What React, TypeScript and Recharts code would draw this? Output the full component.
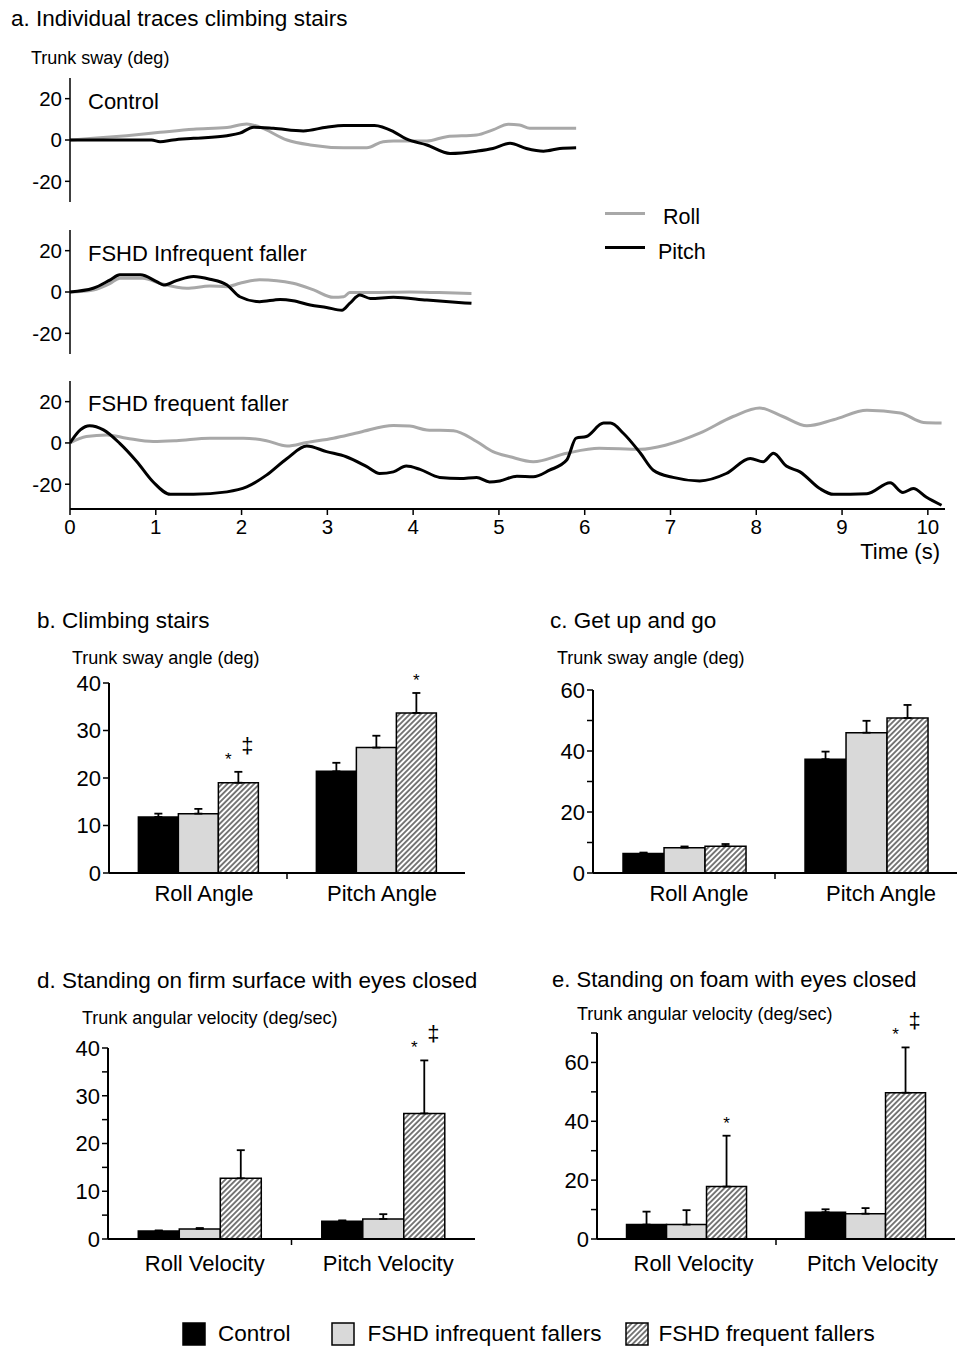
import React from "react";
import { LineChart, Line, BarChart, Bar, XAxis, YAxis, ErrorBar, LabelList } from "recharts";

const FONT = '"Liberation Sans", Arial, Helvetica, sans-serif';

// panel a – individual traces, [time (s), sway (deg)]
const controlRoll = [
  [0, 0], [0.27, 0.8], [0.66, 2.1], [1.05, 3.7], [1.44, 5.2], [1.83, 6.0], [2.06, 7.8], [2.2, 6.5],
  [2.53, 0], [2.8, -2.4], [3.19, -3.7], [3.46, -3.7], [3.65, -0.8], [3.77, -0.5], [4.16, -0.5],
  [4.39, 1.6], [4.74, 2.4], [4.93, 4.9], [5.11, 7.6], [5.24, 7.3], [5.36, 5.7], [5.9, 5.7],
];
const controlPitch = [
  [0, 0], [0.5, 0], [0.95, 0], [1.05, -0.8], [1.2, 0], [1.44, 0.8], [1.83, 2.1], [1.98, 3.3],
  [2.14, 6.2], [2.37, 5.7], [2.72, 4.4], [2.99, 6.2], [3.19, 7.0], [3.55, 7.0], [3.77, 4.1],
  [3.92, 0.5], [4.16, -2.4], [4.43, -6.5], [4.74, -5.4], [4.93, -4.1], [5.13, -1.6], [5.32, -4.1],
  [5.52, -5.4], [5.71, -4.1], [5.9, -3.7],
];
const infreqRoll = [
  [0, 0], [0.27, 1], [0.47, 4.2], [0.58, 6.7], [0.85, 6.7], [1.05, 4.2], [1.36, 1.8], [1.63, 2.9],
  [1.83, 2.6], [1.98, 4.2], [2.21, 5.9], [2.41, 5.5], [2.6, 4.2], [2.84, 1], [3.07, -2.6],
  [3.19, -2.3], [3.26, -0.3], [3.57, -0.2], [3.96, 0], [4.3, -0.3], [4.68, -0.7],
];
const infreqPitch = [
  [0, 0], [0.27, 1.8], [0.47, 5.9], [0.58, 8.3], [0.82, 8.3], [1.01, 5], [1.09, 3.4], [1.24, 5.5],
  [1.44, 7.5], [1.63, 6.2], [1.83, 3.4], [1.98, -2.3], [2.21, -4.7], [2.45, -3.6], [2.6, -4.2],
  [2.8, -6.3], [2.99, -7.5], [3.17, -8.8], [3.26, -5.5], [3.38, -1.5], [3.5, -3.1], [3.77, -2.6],
  [4.16, -3.9], [4.68, -5.5],
];
const frequentRoll = [
  [0, 0], [0.19, 3.1], [0.43, 3.9], [0.66, 2.3], [0.97, 0.7], [1.24, 1.1], [1.63, 2.3], [2.02, 2.3],
  [2.29, 1.1], [2.53, -1.5], [2.76, 0.2], [3.07, 2.3], [3.38, 5.2], [3.77, 8.5], [3.96, 8.2],
  [4.16, 6.3], [4.47, 5.9], [4.74, 0.7], [4.93, -4.2], [5.13, -6.7], [5.4, -9.1], [5.79, -5.0],
  [6.17, -2.6], [6.65, -3.1], [6.95, -1], [7.34, 4.7], [7.73, 12.8], [8.04, 16.9], [8.31, 12.8],
  [8.59, 8.3], [8.9, 11.2], [9.29, 15.8], [9.68, 14.5], [9.95, 9.9], [10.16, 9.6],
];
const frequentPitch = [
  [0, 0], [0.12, 6.3], [0.23, 8.3], [0.39, 6.3], [0.58, -0.2], [0.78, -9.1], [0.97, -18.9],
  [1.17, -24.9], [1.44, -24.9], [1.83, -23.7], [2.06, -21.3], [2.29, -15.6], [2.53, -7.5],
  [2.76, -1.5], [2.99, -4.2], [3.22, -6.7], [3.46, -11.5], [3.61, -14.8], [3.77, -14.0],
  [3.92, -11.2], [4.08, -12.8], [4.31, -16.7], [4.55, -17.2], [4.74, -16.7], [4.89, -18.9],
  [5.01, -18.4], [5.21, -16.1], [5.4, -16.4], [5.59, -13.2], [5.79, -8.3], [5.9, 2.3], [6.02, 3.1],
  [6.22, 9.6], [6.3, 9.6], [6.45, 4.7], [6.65, -5], [6.8, -13.2], [7.03, -16.7], [7.34, -18.4],
  [7.65, -14.8], [7.93, -7.5], [8.08, -9.1], [8.2, -5.0], [8.35, -11.2], [8.51, -14], [8.74, -22.1],
  [8.9, -24.9], [9.29, -24.6], [9.56, -19.3], [9.71, -24.0], [9.83, -22.1], [9.98, -26.2], [10.16, -30.2],
];
const timeTicks = [0, 1, 2, 3, 4, 5, 6, 7, 8, 9, 10];
const swayTicks = [-20, 0, 20];

// panels b-e – group means and upper SE
const angleCats = ["Roll Angle", "Pitch Angle"];
const velocityCats = ["Roll Velocity", "Pitch Velocity"];

const stairsControl = [11.8, 21.4];
const stairsControlSe = [0.7, 1.8];
const stairsInfreq = [12.5, 26.4];
const stairsInfreqSe = [1.0, 2.5];
const stairsFrequent = [19.0, 33.7];
const stairsFrequentSe = [2.3, 4.2];
const stairsMarks = ["* ‡", "*"];

const getUpControl = [6.4, 37.3];
const getUpControlSe = [0.3, 2.5];
const getUpInfreq = [8.3, 46.0];
const getUpInfreqSe = [0.4, 3.9];
const getUpFrequent = [8.8, 50.8];
const getUpFrequentSe = [0.7, 4.3];
const getUpMarks = ["", ""];

const firmControl = [1.7, 3.7];
const firmControlSe = [0.1, 0.2];
const firmInfreq = [2.1, 4.2];
const firmInfreqSe = [0.2, 1.0];
const firmFrequent = [12.7, 26.3];
const firmFrequentSe = [5.9, 11.1];
const firmMarks = ["", "* ‡"];

const foamControl = [4.9, 9.1];
const foamControlSe = [4.4, 1.0];
const foamInfreq = [4.9, 8.6];
const foamInfreqSe = [4.9, 1.9];
const foamFrequent = [17.8, 49.7];
const foamFrequentSe = [17.3, 15.4];
const foamMarks = ["*", "* ‡"];

function Txt({ x, y, size, children, right }: any) {
  const style: any = {
    position: "absolute",
    top: y - size * 0.52,
    fontSize: size,
    lineHeight: 1,
    whiteSpace: "nowrap",
    color: "#000",
  };
  if (right) style.right = 957 - x;
  else style.left = x;
  return <div style={style}>{children}</div>;
}

function TracePanel({ top, height, domain, roll, pitch, withTime }: any) {
  const toPts = (arr: number[][]) => arr.map(([t, v]) => ({ t, v }));
  return (
    <div style={{ position: "absolute", left: 0, top }}>
      <LineChart width={957} height={height} margin={{ top: 8, right: 12, left: 0, bottom: withTime ? 0 : 8 }}>
        <XAxis
          type="number"
          dataKey="t"
          domain={[0, 10.2]}
          ticks={timeTicks}
          interval={0}
          hide={!withTime}
          height={30}
          tickSize={6}
          tickMargin={4}
          allowDataOverflow
          axisLine={{ stroke: "#000", strokeWidth: 2 }}
          tickLine={{ stroke: "#000", strokeWidth: 1.5 }}
          tick={{ fill: "#000", fontSize: 20.5 }}
        />
        <YAxis
          type="number"
          domain={domain}
          ticks={swayTicks}
          interval={0}
          width={70}
          tickSize={5}
          tickMargin={3}
          allowDataOverflow
          axisLine={{ stroke: "#000", strokeWidth: 1.5 }}
          tickLine={{ stroke: "#000", strokeWidth: 1.5 }}
          tick={{ fill: "#000", fontSize: 20.5 }}
        />
        <Line data={toPts(roll)} dataKey="v" type="monotone" stroke="#a8a8a8" strokeWidth={3} dot={false} isAnimationActive={false} />
        <Line data={toPts(pitch)} dataKey="v" type="monotone" stroke="#000" strokeWidth={3} dot={false} isAnimationActive={false} />
      </LineChart>
    </div>
  );
}

function CatTick(props: any) {
  const { x, y, payload, index, dx, gap, width } = props;
  const axisY = y - 6 - gap;
  const half = payload.offset != null ? payload.offset : width / 4;
  return (
    <g>
      <text x={x + dx} y={y} dy="0.71em" textAnchor="middle" fill="#000" fontSize={22}>
        {payload.value}
      </text>
      {index === 0 && (
        <line x1={x + half} x2={x + half} y1={axisY} y2={axisY + 6} stroke="#000" strokeWidth={1.5} />
      )}
    </g>
  );
}

function BarPanel(p: any) {
  const rows = p.cats.map((cat: string, i: number) => ({
    cat,
    control: p.control[i],
    infreq: p.infreq[i],
    frequent: p.frequent[i],
    controlErr: [0, p.controlSe[i]],
    infreqErr: [0, p.infreqSe[i]],
    frequentErr: [0, p.frequentSe[i]],
    mark: p.marks[i],
  }));
  const hatch = `hatch-${p.id}`;

  const markContent = (lp: any) => {
    const r = rows[lp.index];
    if (!r || !r.mark) return null;
    const scale = Number(lp.height) / r.frequent;
    const errTop = Number(lp.y) - r.frequentErr[1] * scale;
    const cx = Number(lp.x) + Number(lp.width) / 2;
    const dagger = r.mark.includes("‡");
    return (
      <g>
        <text x={dagger ? cx - 10 : cx} y={errTop - 7} textAnchor="middle" fontSize={17} fill="#000">*</text>
        {dagger && (
          <text x={cx + 9} y={errTop - 19} textAnchor="middle" fontSize={22} fill="#000">‡</text>
        )}
      </g>
    );
  };

  return (
    <div style={{ position: "absolute", left: p.left, top: p.top }}>
      <BarChart
        width={p.width}
        height={p.height}
        data={rows}
        margin={{ top: p.mTop, right: p.mRight, left: 0, bottom: 0 }}
        barGap={0}
        barCategoryGap="16.5%"
      >
        <defs>
          <pattern id={hatch} width={3.8} height={3.8} patternUnits="userSpaceOnUse" patternTransform="rotate(45)">
            <rect width={3.8} height={3.8} fill="#fff" />
            <line x1={1.9} y1={0} x2={1.9} y2={3.8} stroke="#222" strokeWidth={1.2} />
          </pattern>
        </defs>
        <XAxis
          dataKey="cat"
          height={45}
          tickSize={6}
          tickMargin={p.gap}
          tickLine={false}
          axisLine={{ stroke: "#000", strokeWidth: 2 }}
          tick={(tp: any) => <CatTick {...tp} dx={p.labelDx} gap={p.gap} />}
        />
        <YAxis
          type="number"
          domain={p.domain}
          ticks={p.ticks}
          interval={0}
          width={p.yWidth}
          tickSize={6}
          tickMargin={2}
          allowDataOverflow
          tickFormatter={p.fmt}
          axisLine={{ stroke: "#000", strokeWidth: 2 }}
          tickLine={{ stroke: "#000", strokeWidth: 1.5 }}
          tick={{ fill: "#000", fontSize: 22 }}
        />
        <Bar dataKey="control" fill="#000" stroke="#000" strokeWidth={1.5} isAnimationActive={false}>
          <ErrorBar dataKey="controlErr" direction="y" width={4} stroke="#000" strokeWidth={1.8} />
        </Bar>
        <Bar dataKey="infreq" fill="#d9d9d9" stroke="#000" strokeWidth={1.5} isAnimationActive={false}>
          <ErrorBar dataKey="infreqErr" direction="y" width={4} stroke="#000" strokeWidth={1.8} />
        </Bar>
        <Bar dataKey="frequent" fill={`url(#${hatch})`} stroke="#000" strokeWidth={1.5} isAnimationActive={false}>
          <ErrorBar dataKey="frequentErr" direction="y" width={4} stroke="#000" strokeWidth={1.8} />
          <LabelList dataKey="mark" content={markContent} />
        </Bar>
      </BarChart>
    </div>
  );
}

function Swatch({ kind }: any) {
  return (
    <svg width={24} height={24} style={{ display: "block" }}>
      <defs>
        <pattern id="hatch-legend" width={3.8} height={3.8} patternUnits="userSpaceOnUse" patternTransform="rotate(45)">
          <rect width={3.8} height={3.8} fill="#fff" />
          <line x1={1.9} y1={0} x2={1.9} y2={3.8} stroke="#222" strokeWidth={1.2} />
        </pattern>
      </defs>
      <rect
        x={1}
        y={1}
        width={22}
        height={22}
        stroke="#000"
        strokeWidth={1.5}
        fill={kind === "control" ? "#000" : kind === "infreq" ? "#d9d9d9" : "url(#hatch-legend)"}
      />
    </svg>
  );
}

export default function App() {
  return (
    <div
      style={{
        position: "absolute",
        left: 0,
        top: 0,
        width: 957,
        height: 1347,
        background: "#fff",
        fontFamily: FONT,
        overflow: "hidden",
      }}
    >
      {/* a. traces */}
      <TracePanel top={70} height={140} domain={[-30, 30]} roll={controlRoll} pitch={controlPitch} />
      <TracePanel top={222} height={140} domain={[-30, 30]} roll={infreqRoll} pitch={infreqPitch} />
      <TracePanel top={373} height={166} domain={[-32, 30]} roll={frequentRoll} pitch={frequentPitch} withTime />

      <Txt x={11} y={20} size={22.5}>a. Individual traces climbing stairs</Txt>
      <Txt x={31} y={58} size={18}>Trunk sway (deg)</Txt>
      <Txt x={88} y={102} size={22}>Control</Txt>
      <Txt x={88} y={254} size={22}>FSHD Infrequent faller</Txt>
      <Txt x={88} y={404} size={22}>FSHD frequent faller</Txt>
      <Txt x={940} y={552} size={22} right>Time (s)</Txt>

      <div style={{ position: "absolute", left: 605, top: 211.5, width: 40, height: 3, background: "#a8a8a8" }} />
      <div style={{ position: "absolute", left: 605, top: 245.5, width: 40, height: 3, background: "#000" }} />
      <Txt x={663} y={218} size={21.5}>Roll</Txt>
      <Txt x={658} y={253} size={21.5}>Pitch</Txt>

      {/* b. climbing stairs */}
      <BarPanel
        id="b" left={0} top={670} width={480} height={248} mTop={13} mRight={15} yWidth={109}
        domain={[0, 40]} ticks={[0, 10, 20, 30, 40]} fmt={(v: number) => String(v)}
        cats={angleCats} control={stairsControl} controlSe={stairsControlSe}
        infreq={stairsInfreq} infreqSe={stairsInfreqSe} frequent={stairsFrequent} frequentSe={stairsFrequentSe}
        marks={stairsMarks} labelDx={6} gap={6}
      />
      <Txt x={37} y={622} size={22.5}>b. Climbing stairs</Txt>
      <Txt x={72} y={658} size={18}>Trunk sway angle (deg)</Txt>

      {/* c. get up and go */}
      <BarPanel
        id="c" left={480} top={670} width={477} height={248} mTop={20} mRight={0} yWidth={113}
        domain={[0, 60]} ticks={[0, 10, 20, 30, 40, 50, 60]} fmt={(v: number) => (v % 20 === 0 ? String(v) : "")}
        cats={angleCats} control={getUpControl} controlSe={getUpControlSe}
        infreq={getUpInfreq} infreqSe={getUpInfreqSe} frequent={getUpFrequent} frequentSe={getUpFrequentSe}
        marks={getUpMarks} labelDx={15} gap={6}
      />
      <Txt x={550} y={622} size={22.5}>c. Get up and go</Txt>
      <Txt x={557} y={658} size={18}>Trunk sway angle (deg)</Txt>

      {/* d. firm surface, eyes closed */}
      <BarPanel
        id="d" left={0} top={1010} width={480} height={274} mTop={38} mRight={5} yWidth={108}
        domain={[0, 40]} ticks={[0, 5, 10, 15, 20, 25, 30, 35, 40]} fmt={(v: number) => (v % 10 === 0 ? String(v) : "")}
        cats={velocityCats} control={firmControl} controlSe={firmControlSe}
        infreq={firmInfreq} infreqSe={firmInfreqSe} frequent={firmFrequent} frequentSe={firmFrequentSe}
        marks={firmMarks} labelDx={5} gap={10}
      />
      <Txt x={37} y={982} size={22.5}>d. Standing on firm surface with eyes closed</Txt>
      <Txt x={82} y={1018} size={18}>Trunk angular velocity (deg/sec)</Txt>

      {/* e. foam, eyes closed */}
      <BarPanel
        id="e" left={480} top={1000} width={477} height={284} mTop={33} mRight={2} yWidth={117}
        domain={[0, 70]} ticks={[0, 10, 20, 30, 40, 50, 60, 70]} fmt={(v: number) => (v % 20 === 0 && v <= 60 ? String(v) : "")}
        cats={velocityCats} control={foamControl} controlSe={foamControlSe}
        infreq={foamInfreq} infreqSe={foamInfreqSe} frequent={foamFrequent} frequentSe={foamFrequentSe}
        marks={foamMarks} labelDx={7} gap={10}
      />
      <Txt x={552} y={980} size={22}>e. Standing on foam with eyes closed</Txt>
      <Txt x={577} y={1014} size={18}>Trunk angular velocity (deg/sec)</Txt>

      {/* legend */}
      <div
        style={{
          position: "absolute",
          left: 182,
          top: 1322,
          display: "flex",
          alignItems: "center",
          fontSize: 22.5,
          lineHeight: 1,
          whiteSpace: "nowrap",
        }}
      >
        <Swatch kind="control" />
        <span style={{ marginLeft: 12, marginRight: 40 }}>Control</span>
        <Swatch kind="infreq" />
        <span style={{ marginLeft: 13, marginRight: 24 }}>FSHD infrequent fallers</span>
        <Swatch kind="frequent" />
        <span style={{ marginLeft: 9 }}>FSHD frequent fallers</span>
      </div>
    </div>
  );
}
